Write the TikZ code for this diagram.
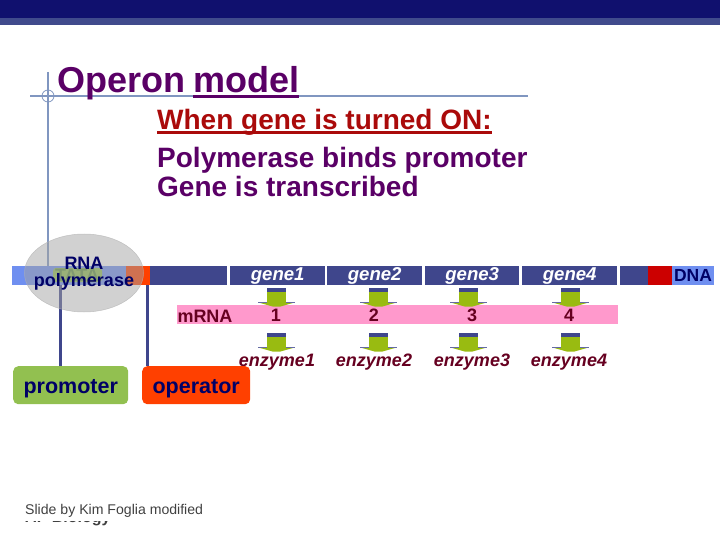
\documentclass[tikz,border=0pt]{standalone}
\usepackage{fontspec}
\setmainfont{Liberation Sans}
\definecolor{navyhead}{HTML}{10106E}
\definecolor{navyband}{HTML}{404A8C}
\definecolor{guide}{HTML}{8096C0}
\definecolor{barnavy}{HTML}{3F468C}
\definecolor{barlight}{HTML}{6F8FF0}
\definecolor{barorange}{HTML}{FF4000}
\definecolor{barred}{HTML}{CC0000}
\definecolor{pinkbar}{HTML}{FF99CC}
\definecolor{arrowgreen}{HTML}{99BB11}
\definecolor{boxgreen}{HTML}{92C050}
\definecolor{titlepurple}{HTML}{5A0066}
\definecolor{titlered}{HTML}{AA0A0A}
\definecolor{darkred}{HTML}{660020}
\definecolor{labelnavy}{HTML}{000066}
\definecolor{lblgreen}{HTML}{5F9040}
\newcommand{\fs}[1]{\fontsize{#1}{#1}\selectfont}
\tikzset{
 genebar/.style={fill=barnavy,draw=none,inner sep=0,text height=14.5pt,text depth=4.5pt,anchor=west,text=white,font=\fs{18.6}\bfseries\itshape},
 plain/.style={inner sep=0,anchor=base west},
 numtext/.style={inner sep=0,text=darkred,font=\fs{18}\bfseries},
 enztext/.style={inner sep=0,text=darkred,font=\fs{18}\bfseries\itshape},
 callout/.style={rounded corners=5pt,inner sep=0,anchor=north west,text height=27pt,text depth=11pt,font=\fs{21.5}\bfseries,text=labelnavy},
 wire/.style={draw=barnavy,line width=3pt},
 guideline/.style={draw=guide,line width=1.4pt},
}
\newcommand{\gearrow}[2]{%
 \fill[arrowgreen] (#1-9.5,#2+3) rectangle (#1+9.5,#2+15);
 \fill[barnavy] (#1-9.5,#2) rectangle (#1+9.5,#2+4);
 \fill[arrowgreen] (#1-18,#2+14.5) -- (#1+18,#2+14.5) -- (#1+4,#2+18.5) -- (#1-4,#2+18.5) -- cycle;
 \draw[barnavy!80,line width=.7pt] (#1-18.5,#2+14.5) -- (#1-9.5,#2+14.5) (#1+9.5,#2+14.5) -- (#1+18.5,#2+14.5);
}
\begin{document}
\begin{tikzpicture}[x=1pt,y=-1pt]
\useasboundingbox (0,0) rectangle (720,540);
\fill[navyhead] (0,0) rectangle (720,18);
\fill[navyband] (0,18) rectangle (720,25);
\draw[guideline] (30,96) -- (528,96);
\draw[guideline] (48,72) -- (48,266);
\coordinate (cross) at (48,96);
\draw[guide,line width=.8pt] (cross) circle (6);
\node[plain,text=titlepurple,font=\fs{36}\bfseries] (title) at (57,93) {Operon};
\node[plain,text=titlepurple,font=\fs{36}\bfseries] (model) at (193,93) {model};
\draw[titlepurple,line width=3pt] ([yshift=-3.5pt]model.base west) -- ([yshift=-3.5pt]model.base east);
\node[plain,text=titlered,font=\fs{28}\bfseries] (on) at (157,129.5) {When gene is turned ON:};
\draw[titlered,line width=3pt] ([yshift=-3pt]on.base west) -- ([yshift=-3pt]on.base east);
\node[plain,text=titlepurple,font=\fs{28}\bfseries] (l2) at (157,167.5) {Polymerase binds promoter};
\node[plain,text=titlepurple,font=\fs{28}\bfseries] (l3) at (157,196.5) {Gene is transcribed};
% DNA bar
\fill[barlight] (12,266) rectangle (126,285);
\fill[barorange] (126,266) rectangle (150,285);
\fill[barnavy] (150,266) rectangle (227,285);
\node[genebar,minimum width=95pt] (g1) at (230,275.5) {gene1};
\node[genebar,minimum width=95pt] (g2) at (327,275.5) {gene2};
\node[genebar,minimum width=94pt] (g3) at (425,275.5) {gene3};
\node[genebar,minimum width=95pt] (g4) at (522,275.5) {gene4};
\fill[barnavy] (620,266) rectangle (648,285);
\fill[barred] (648,266) rectangle (672,285);
\fill[barlight] (672,266) rectangle (714,285);
\node[inner sep=0,text=labelnavy,font=\fs{17.5}\bfseries] (dna) at (693,275.5) {DNA};
\fill[boxgreen,rounded corners=3pt] (53,268) rectangle (102,282);
\node[inner sep=0,text=lblgreen,font=\fs{18}\bfseries] (tata) at (77,275) {TATA};
% mRNA
\fill[pinkbar] (177,305) rectangle (618,324);
\node[inner sep=0,text=darkred,font=\fs{18}\bfseries] (mrna) at (205,316) {mRNA};
\foreach \x/\n in {276/1,374/2,472/3,569/4}{\node[numtext] (n\n) at (\x,315) {\n};}
\foreach \x in {276.5,378.5,468.5,570.5}{\gearrow{\x}{288}\gearrow{\x}{333}}
\foreach \x/\n in {277/1,374/2,472/3,569/4}{\node[enztext] (e\n) at (\x,362) {enzyme\n};}
% callouts
\node[callout,fill=boxgreen,minimum width=115pt] (promoter) at (13,366) {promoter};
\node[callout,fill=barorange,minimum width=108pt] (operator) at (142,366) {operator};
\coordinate (pa) at (60,285);
\coordinate (oa) at (147,285);
\draw[wire] (pa) -- (pa |- promoter.north);
\draw[wire] (oa) -- (oa |- operator.north);
% polymerase
\fill[black!36,fill opacity=.5,draw=gray!60,draw opacity=.7,line width=.5pt] (84,273) ellipse (59.5 and 39);
\node[inner sep=0,align=center,text=labelnavy,font=\fs{18}\bfseries] (rnap) at (84,273.5) {RNA\\[-0.5pt]polymerase};
% footer
\begin{scope}
\clip (0,521) rectangle (720,540);
\node[plain,text=darkgray,font=\fs{16}\bfseries] (ap) at (25,522.5) {AP Biology};
\end{scope}
\node[plain,text=darkgray,font=\fs{14.1}] (credit) at (25,514) {Slide by Kim Foglia modified};
\end{tikzpicture}
\end{document}
